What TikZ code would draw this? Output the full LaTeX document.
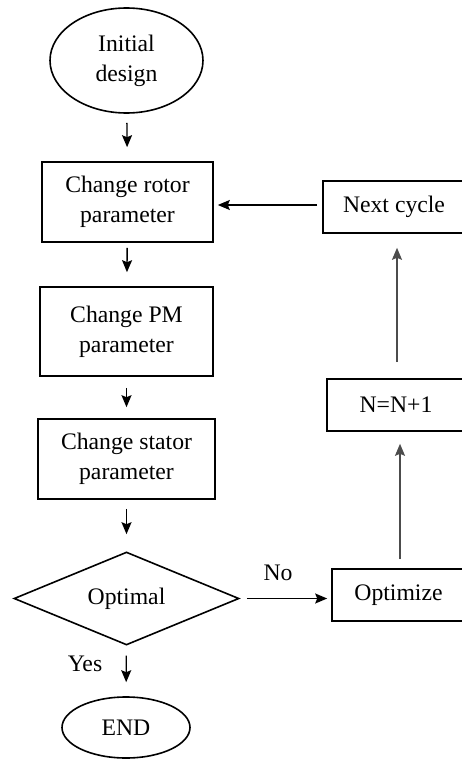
\documentclass[tikz,border=0pt]{standalone}
\usepackage{fontspec}
\setmainfont{Liberation Serif}
\newfontfamily\diagfont{Liberation Serif}
\usetikzlibrary{shapes.geometric,arrows.meta}

\tikzset{
  base/.style={draw, line width=1.6pt, inner sep=0pt, align=center,
               font=\diagfont\fontsize{23.7}{30}\selectfont},
  procbox/.style={base, rectangle},
  termshape/.style={base, ellipse},
  decide/.style={base, diamond},
  flow/.style={line width=1.4pt, -{Stealth[length=12pt,width=10pt,inset=2pt]}},
  loopflow/.style={flow, draw=black!70, fill=black!70},
  lbl/.style={font=\diagfont\fontsize{23.7}{30}\selectfont, inner sep=0pt}
}

\begin{document}
\begin{tikzpicture}[x=1pt,y=-1pt]
  \useasboundingbox (0,0) rectangle (462,760);

  % main column
  \node[termshape, minimum width=153pt, minimum height=105pt] (init) at (126.5,60.5) {Initial\\design};
  \node[procbox, minimum width=171pt, minimum height=80pt] (rotor) at (127.5,202) {Change rotor\\parameter};
  \node[procbox, minimum width=173pt, minimum height=89pt] (pm) at (126.5,331.5) {Change PM\\parameter};
  \node[procbox, minimum width=177pt, minimum height=80pt] (stator) at (126.5,459) {Change stator\\parameter};
  \node[decide, minimum width=225pt, minimum height=93pt, aspect=2.4] (optimal) at (126.5,598.5) {Optimal};
  \node[termshape, minimum width=128pt, minimum height=61pt] (finish) at (126,727.5) {END};

  % loop column
  \node[procbox, minimum width=133pt, minimum height=52pt] (optbox) at (398.5,595) {Optimize};
  \node[procbox, minimum width=138pt, minimum height=52pt] (nplus) at (396,405) {N=N+1};
  \node[procbox, minimum width=142pt, minimum height=52pt] (next) at (394,207) {Next cycle};

  % main flow arrows
  \draw[flow, shorten <=9pt, shorten >=14pt] (init) -- (rotor);
  \draw[flow, shorten <=5pt, shorten >=14pt] (rotor) -- (pm);
  \draw[flow, shorten <=11pt, shorten >=11pt] (pm) -- (stator);
  \draw[flow, shorten <=9pt, shorten >=17pt] (stator) -- (optimal);
  \draw[flow, shorten <=10pt, shorten >=14pt] (optimal) -- (finish);
  \draw[flow, shorten <=7pt, shorten >=4pt] (optimal.east) -- (optbox.west |- optimal.east);

  % loop arrows
  \draw[loopflow, shorten <=9pt, shorten >=12pt] ([xshift=1.5pt]optbox.north) -- ([xshift=4pt]nplus.south);
  \draw[loopflow, shorten <=16pt, shorten >=14pt] ([xshift=1pt]nplus.north) -- ([xshift=3pt]next.south);
  \coordinate (backy) at (0,205);
  \draw[flow, shorten <=5pt, shorten >=4pt] (next.west |- backy) -- (rotor.east |- backy);

  % branch labels
  \node[lbl] (nolbl) at (278,573) {No};
  \node[lbl] (yeslbl) at (85,664) {Yes};
\end{tikzpicture}
\end{document}
